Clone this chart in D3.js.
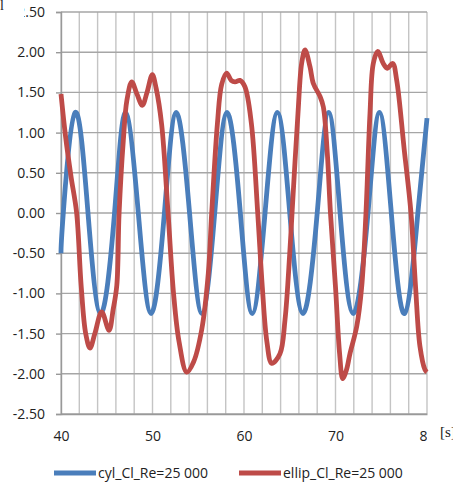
<!DOCTYPE html>
<html>
<head>
<meta charset="utf-8">
<script src="https://cdn.jsdelivr.net/npm/d3@7"></script>
<style>
  body { margin: 0; background: #fff; }
  svg { display: block; }
</style>
</head>
<body>
<svg id="chart" width="453" height="483"></svg>
<script>
// time values [s] and lift coefficients
const cylTime = [40.0, 40.25, 41.55, 42.95, 44.35, 45.85, 47.05, 48.45, 49.85, 51.3, 52.6, 54.05, 55.4, 56.8,
  58.15, 59.6, 60.9, 62.3, 63.65, 65.0, 66.45, 68.0, 69.25, 70.5, 71.95, 73.55, 74.8, 76.1, 77.55, 79.0, 80.0];
const cylCl = [-0.5, 0, 1.25, 0, -1.25, 0, 1.25, 0, -1.25, 0, 1.25, 0, -1.25, 0,
  1.25, 0, -1.25, 0, 1.25, 0, -1.25, 0, 1.25, 0, -1.25, 0, 1.25, 0, -1.25, 0, 1.18];

const ellipTime = [40.0, 40.5, 41.1, 41.71, 42.2, 42.7, 43.17, 43.7, 44.45, 45.25, 45.7, 46.1, 46.35, 46.81,
  47.2, 47.73, 48.3, 48.89, 49.4, 49.98, 50.4, 51.0, 51.7, 52.3, 52.9, 53.74, 54.5, 55.38, 56.1, 56.47,
  57.1, 57.56, 58.1, 58.6, 59.02, 59.56, 60.1, 60.8, 61.5, 62.0, 62.5, 63.03, 63.93, 64.48, 65.0, 65.25,
  65.9, 66.3, 66.67, 67.21, 67.58, 68.31, 68.67, 69.1, 69.45, 70.0, 70.45, 70.79, 71.2, 71.58, 72.32,
  72.86, 73.33, 73.77, 74.13, 74.61, 75.22, 75.66, 76.25, 76.69, 77.5, 78.25, 78.75, 79.23, 79.78, 80.0];
const ellipCl = [1.48, 0.95, 0.45, 0, -0.9, -1.5, -1.68, -1.5, -1.23, -1.46, -1.2, -0.9, 0, 0.9,
  1.4, 1.63, 1.48, 1.34, 1.5, 1.72, 1.55, 1.1, 0, -1.0, -1.6, -1.98, -1.85, -1.45, -0.75, 0,
  1.12, 1.6, 1.74, 1.65, 1.63, 1.65, 1.57, 1.12, 0, -0.92, -1.6, -1.87, -1.75, -1.33, -0.5, 0,
  1.24, 1.86, 2.03, 1.82, 1.61, 1.45, 1.32, 0.75, 0, -0.92, -1.75, -2.06, -1.95, -1.75, -1.41,
  -0.92, 0, 1.24, 1.86, 2.01, 1.86, 1.8, 1.86, 1.65, 0.8, 0, -0.92, -1.66, -1.95, -1.98];

const yTicks = [-2.5, -2.0, -1.5, -1.0, -0.5, 0, 0.5, 1.0, 1.5, 2.0, 2.5];
const xLabelTicks = [40, 50, 60, 70, 80];
const xGridTicks = d3.range(40, 81, 2);
const seriesNames = ['cyl_Cl_Re=25 000', 'ellip_Cl_Re=25 000'];
const seriesColors = ['#4a7ebb', '#be4b48'];

const svg = d3.select('#chart');
const margin = { top: 12, right: 26, bottom: 69, left: 61 };
const width = 453 - margin.left - margin.right;
const height = 483 - margin.top - margin.bottom;
const font = '"Open Sans", "Liberation Sans", sans-serif';

const x = d3.scaleLinear().domain([40, 80]).range([0, width]);
const y = d3.scaleLinear().domain([-2.5, 2.5]).range([height, 0]);

const g = svg.append('g').attr('transform', `translate(${margin.left}, ${margin.top})`);

// grid
g.append('g').selectAll('line').data(xGridTicks).enter().append('line')
  .attr('x1', d => x(d)).attr('x2', d => x(d)).attr('y1', 0).attr('y2', height)
  .attr('stroke', '#c4c4c4').attr('stroke-width', 1.4);
g.append('g').selectAll('line').data(yTicks).enter().append('line')
  .attr('x1', 0).attr('x2', width).attr('y1', d => y(d)).attr('y2', d => y(d))
  .attr('stroke', '#a6a6a6').attr('stroke-width', 1.4);

// axes
const yAxis = g.append('g')
  .call(d3.axisLeft(y).tickValues(yTicks).tickFormat(d3.format('.2f')).tickSize(5).tickPadding(11));
const xAxis = g.append('g')
  .attr('transform', `translate(0, ${height})`)
  .call(d3.axisBottom(x).tickValues(xLabelTicks).tickFormat(d3.format('d')).tickSize(0).tickPadding(17));
[yAxis, xAxis].forEach(a => {
  a.select('.domain').attr('stroke', '#999').attr('stroke-width', 1.4);
  a.selectAll('.tick line').attr('stroke', '#999').attr('stroke-width', 1.4);
  a.selectAll('text').attr('font-family', font).attr('font-size', 14).attr('fill', '#222');
});
yAxis.selectAll('text').text(d => d3.format('.2f')(d).replace('−', '-'));

// series
const seriesData = [
  cylTime.map((t, i) => [t, cylCl[i]]),
  ellipTime.map((t, i) => [t, ellipCl[i]])
];
const curves = [d3.curveNatural, d3.curveCatmullRom.alpha(0.5)];
seriesData.forEach((pts, i) => {
  g.append('path')
    .datum(pts)
    .attr('fill', 'none')
    .attr('stroke', seriesColors[i])
    .attr('stroke-width', 4.8)
    .attr('stroke-linejoin', 'round')
    .attr('d', d3.line().x(d => x(d[0])).y(d => y(d[1])).curve(curves[i]));
});

// axis titles sitting over the corner labels
svg.append('rect').attr('x', 0).attr('y', 0).attr('width', 24).attr('height', 20).attr('fill', '#fff');
svg.append('text').attr('x', 0).attr('y', 10)
  .attr('font-family', '"Liberation Serif", serif').attr('font-size', 14).attr('fill', '#222').text('l');
svg.append('rect').attr('x', 427).attr('y', 420).attr('width', 26).attr('height', 26).attr('fill', '#fff');
svg.append('text').attr('x', 440).attr('y', 437)
  .attr('font-family', '"Liberation Serif", serif').attr('font-size', 15).attr('fill', '#222').text('[s]');

// legend
const legendX = [54, 239];
seriesNames.forEach((name, i) => {
  const lg = svg.append('g').attr('transform', `translate(${legendX[i]}, 473)`);
  lg.append('line').attr('x1', 0).attr('x2', 42).attr('y1', 0).attr('y2', 0)
    .attr('stroke', seriesColors[i]).attr('stroke-width', 4.8);
  lg.append('text').attr('x', 44).attr('y', 0).attr('dy', '0.35em')
    .attr('font-family', font).attr('font-size', 14).attr('fill', '#222').text(name);
});
</script>
</body>
</html>
